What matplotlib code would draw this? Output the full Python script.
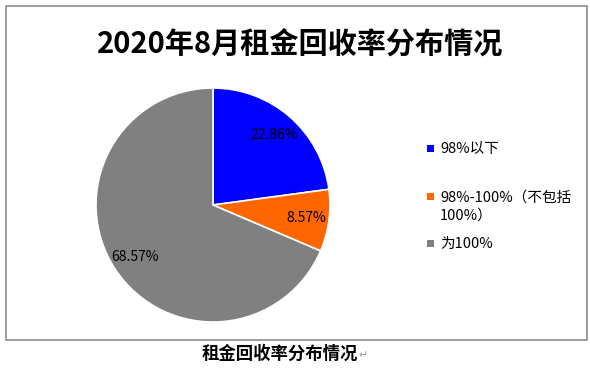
import matplotlib.pyplot as plt
from matplotlib.patches import Rectangle

plt.rcParams['font.family'] = ['Noto Sans CJK SC', 'DejaVu Sans']

# data
labels = ["98%以下", "98%-100%（不包括\n100%）", "为100%"]
values = [22.86, 8.57, 68.57]
colors = ["#0000FF", "#FF6600", "#808080"]

title = "2020年8月租金回收率分布情况"
caption = "租金回收率分布情况"

W, H = 590, 379
fig = plt.figure(figsize=(W / 100, H / 100), dpi=100)
ax = fig.add_axes([0, 0, 1, 1])

# pie in pixel coordinates (y up)
wedges, texts, autotexts = ax.pie(
    values, colors=colors, startangle=90, counterclock=False,
    center=(213, H - 205), radius=117,
    autopct=lambda p: f"{p:.2f}%", pctdistance=0.8,
    wedgeprops=dict(edgecolor="white", linewidth=1.2),
    textprops=dict(fontsize=10, color="black"),
)
ax.set_xlim(0, W)
ax.set_ylim(0, H)
ax.set_aspect("equal")
ax.axis("off")

# chart border
ax.add_patch(Rectangle((6, H - 340), 581, 334, fill=False,
                       edgecolor="#8C8C8C", linewidth=1.2))

ax.text(300, H - 45, title, ha="center", va="center",
        fontsize=21, fontweight="bold")

# legend (Excel style: marker aligned with the first line)
legend_rows = [148, 196, 243]
line_step = 19
for lab, col, y in zip(labels, colors, legend_rows):
    n_lines = lab.count("\n") + 1
    ax.add_patch(Rectangle((427, H - y - 3.5), 7, 7, facecolor=col,
                           edgecolor="none"))
    # baseline is of the last line
    ax.text(440, H - y - 5 - line_step * (n_lines - 1), lab, ha="left",
            va="baseline", fontsize=10.5, linespacing=1.4)

ax.text(280, H - 354, caption, ha="center", va="center",
        fontsize=12.5, fontweight="bold")
ax.text(358, H - 355, "↵", ha="left", va="center",
        fontsize=8, color="#A0A0A0", family=["DejaVu Sans"])

fig.savefig("out.png", dpi=100, facecolor="white")
